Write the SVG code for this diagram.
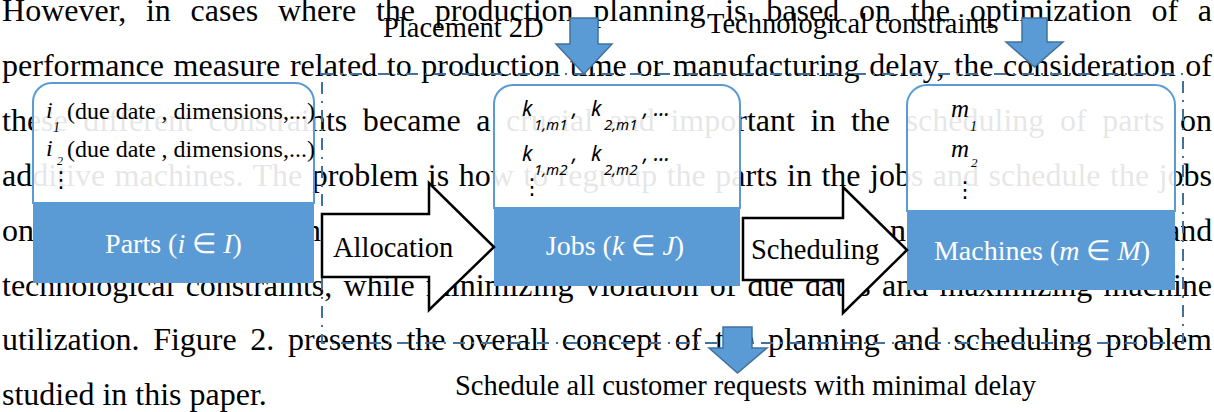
<svg xmlns="http://www.w3.org/2000/svg" width="1214" height="412" viewBox="0 0 1214 412">
<style>
.p { font-family: "Liberation Serif", "Times New Roman", serif; font-size: 32px; fill: #000; }
.lbl { font-family: "Liberation Serif", "Times New Roman", serif; font-size: 28.5px; fill: #000; }
.item { font-family: "Liberation Serif", "Times New Roman", serif; font-size: 24px; fill: #000; }
.sub { font-family: "Liberation Serif", "Times New Roman", serif; font-size: 14px; font-style: italic; fill: #000; }
.it { font-style: italic; }
.k { font-family: "Noto Sans", "Liberation Sans", sans-serif; font-style: italic; font-size: 21px; fill: #000; }
.ksub { font-family: "Noto Sans", "Liberation Sans", sans-serif; font-style: italic; font-size: 15px; fill: #000; }
.dots { font-family: "DejaVu Sans", sans-serif; font-size: 22px; fill: #000; }
.title { font-family: "Liberation Serif", "Times New Roman", serif; font-size: 28px; fill: #fff; text-anchor: middle; }
.boxtop { fill: #fff; fill-opacity: 0.9; stroke: #5b9bd5; stroke-width: 2; }
.boxbot { fill: #5b9bd5; }
.barrow { fill: #5b9bd5; stroke: #41719c; stroke-width: 1.5; }
.harrow { fill: #fff; stroke: #000; stroke-width: 2.5; stroke-linejoin: miter; }
.frame { fill: none; stroke: #41719c; stroke-width: 2; stroke-dasharray: 12 7 2 7; }
</style>

<g id="paragraph" class="p">
<text x="2" y="21" word-spacing="11.7" textLength="1210" lengthAdjust="spacing">However, in cases where the production planning is based on the optimization of a</text>
<text x="2" y="76" word-spacing="1.58" textLength="1210" lengthAdjust="spacing">performance measure related to production time or manufacturing delay, the consideration of</text>
<text x="2" y="131" word-spacing="7.55" textLength="1210" lengthAdjust="spacing">these different constraints became a crucial and important in the scheduling of parts on</text>
<text x="2" y="186" word-spacing="1.47" textLength="1210" lengthAdjust="spacing">additive machines. The problem is how to regroup the parts in the jobs and schedule the jobs</text>
<text x="2" y="241">on</text>
<text x="305" y="241">n</text>
<text x="890" y="241">n</text>
<text x="1166" y="241">and</text>
<text x="2" y="295.5" word-spacing="3.23" textLength="1210" lengthAdjust="spacing">technological constraints, while minimizing violation of due dates and maximizing machine</text>
<text x="2" y="350" word-spacing="5.8" textLength="1210" lengthAdjust="spacing">utilization. Figure 2. presents the overall concept of the planning and scheduling problem</text>
<text x="2" y="405">studied in this paper.</text>
</g>

<g id="frame">
<rect class="frame" x="322" y="74" width="861" height="269"/>
</g>

<g id="parts">
<path class="boxtop" d="M33,203 V102 A19,19 0 0 1 52,83 H295 A19,19 0 0 1 314,102 V203 Z"/>
<rect class="boxbot" x="33" y="203" width="281" height="80"/>
<text class="item it" x="46" y="118">i</text>
<text class="sub" x="53" y="132">1</text>
<text class="item" x="67" y="119">(due date , dimensions,...)</text>
<text class="item it" x="46" y="156">i</text>
<text class="sub" x="57" y="165" style="font-size:12px">2</text>
<text class="item" x="67" y="157">(due date , dimensions,...)</text>
<text class="dots" x="50" y="187">⋮</text>
<text class="title" x="173.5" y="253">Parts (<tspan class="it">i</tspan>  ∈ <tspan class="it">I</tspan>)</text>
</g>

<g id="jobs">
<path class="boxtop" d="M494,208 V104 A19,19 0 0 1 513,85 H721 A19,19 0 0 1 740,104 V208 Z"/>
<rect class="boxbot" x="494" y="208" width="246" height="78"/>
<text class="k" x="522" y="116">k</text>
<text class="ksub" x="534" y="130">1,m1</text>
<text class="k" x="572" y="116">,</text>
<text class="k" x="591" y="116">k</text>
<text class="ksub" x="604" y="130">2,m1</text>
<text class="k" x="643" y="116">, …</text>
<text class="k" x="522" y="161">k</text>
<text class="ksub" x="534" y="175">1,m2</text>
<text class="k" x="572" y="161">,</text>
<text class="k" x="591" y="161">k</text>
<text class="ksub" x="604" y="175">2,m2</text>
<text class="k" x="643" y="161">, …</text>
<text class="dots" x="521" y="194">⋮</text>
<text class="title" x="615" y="255">Jobs (<tspan class="it">k</tspan> ∈ <tspan class="it">J</tspan>)</text>
</g>

<g id="machines">
<path class="boxtop" d="M907,211 V105 A20,20 0 0 1 927,85 H1155 A20,20 0 0 1 1175,105 V211 Z"/>
<rect class="boxbot" x="907" y="211" width="268" height="79"/>
<text class="item it" x="951" y="117" style="font-size:25px">m</text>
<text class="sub" x="970" y="131">1</text>
<text class="item it" x="951" y="157" style="font-size:25px">m</text>
<text class="sub" x="971" y="167" style="font-size:13px">2</text>
<text class="dots" x="954" y="197">⋮</text>
<text class="title" x="1042" y="260">Machines (<tspan class="it">m</tspan> ∈ <tspan class="it">M</tspan>)</text>
</g>

<g id="connectors">
<polygon id="allocation" class="harrow" points="322,214 429,214 429,183 494,247 429,310 429,277 322,277"/>
<polygon id="scheduling" class="harrow" points="743,218 843,218 843,187 907,250 843,313 843,280 743,280"/>
<polygon id="in-placement" class="barrow" points="570,18 598,18 598,44 612,44 584,74 556,44 570,44"/>
<polygon id="in-tech" class="barrow" points="1022,18 1047,18 1047,42 1063,42 1034.5,67 1006,42 1022,42"/>
<polygon id="out-schedule" class="barrow" points="723,327 752,327 752,348 767,348 737.5,373 709,348 723,348"/>
</g>

<g id="labels" class="lbl">
<text x="383" y="37">Placement 2D</text>
<text x="707" y="33">Technological constraints</text>
<text x="333" y="257">Allocation</text>
<text x="751" y="259">Scheduling</text>
<text x="455" y="395">Schedule all customer requests with minimal delay</text>
</g>
</svg>
